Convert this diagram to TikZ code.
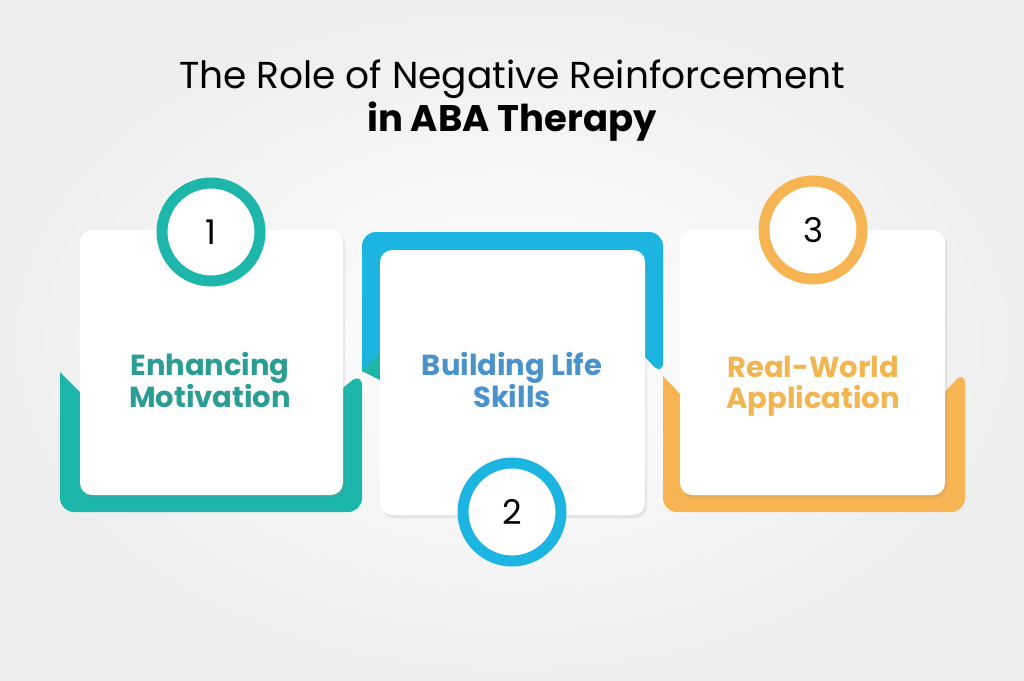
\documentclass[tikz,border=0pt]{standalone}
\usepackage{fontspec}
\setmainfont{Poppins}[BoldFont={* SemiBold}]
\newfontfamily\popbold{Poppins Bold}
\usetikzlibrary{shadows}
\definecolor{teal1}{HTML}{1DB6AA}
\definecolor{tealtxt}{HTML}{2A9D94}
\definecolor{blue1}{HTML}{1CB4E0}
\definecolor{bluetxt}{HTML}{4A92CC}
\definecolor{orange1}{HTML}{F6B452}
\definecolor{orangetxt}{HTML}{F2B550}
\definecolor{bg}{HTML}{EEEEEE}
\begin{document}
\begin{tikzpicture}[x=1pt,y=-1pt,
  card/.style={fill=white,rounded corners=12pt,drop shadow={shadow xshift=2pt,shadow yshift=-3pt,opacity=0.15}},
  ring/.style={circle,minimum size=98pt,line width=11pt,fill=white,font=\fontsize{34}{34}\selectfont,drop shadow={shadow xshift=2pt,shadow yshift=-3pt,opacity=0.2}},
  lbl/.style={font=\popbold\fontsize{29}{31}\selectfont,align=center}]
\shade[inner color=white,outer color=bg] (0,0) rectangle (1024,680);
\useasboundingbox (0,0) rectangle (1024,680);
\node (t1) at (512,79) {\fontsize{37.5}{40}\selectfont The Role of Negative Reinforcement};
\node (t2) at (512,122) {\fontsize{37}{40}\selectfont\popbold in ABA Therapy};
% backings
\fill[blue1,rounded corners=14pt] (362,372) -- (362,232) -- (663,232) -- (663,376)[sharp corners] -- (645,357) -- (380,352) -- cycle;
\fill[teal1,rounded corners=14pt] (60,372) -- (60,512) -- (362,512) -- (362,372)[sharp corners] -- (343,388) -- (80,392) -- cycle;
\fill[teal1] (362,371) -- (380,352) -- (380,380) -- cycle;
\fill[orange1,rounded corners=14pt] (663,376) -- (663,512) -- (965,512) -- (965,370)[sharp corners] -- (945,392) -- (680,394) -- cycle;
% cards
\fill[card] (80,230) rectangle (343,495);
\fill[card] (380,250) rectangle (645,515);
\fill[card] (680,230) rectangle (945,495);
\node[lbl,text=tealtxt] (c1) at (210,380) {Enhancing\\Motivation};
\node[lbl,text=bluetxt] (c2) at (512,380) {Building Life\\Skills};
\node[lbl,text=orangetxt] (c3) at (813,386) {Real-World\\Application};
\node[ring,draw=teal1] (n1) at (211,232) {1};
\node[ring,draw=blue1] (n2) at (512,512) {2};
\node[ring,draw=orange1] (n3) at (813,230) {3};
\end{tikzpicture}
\end{document}
